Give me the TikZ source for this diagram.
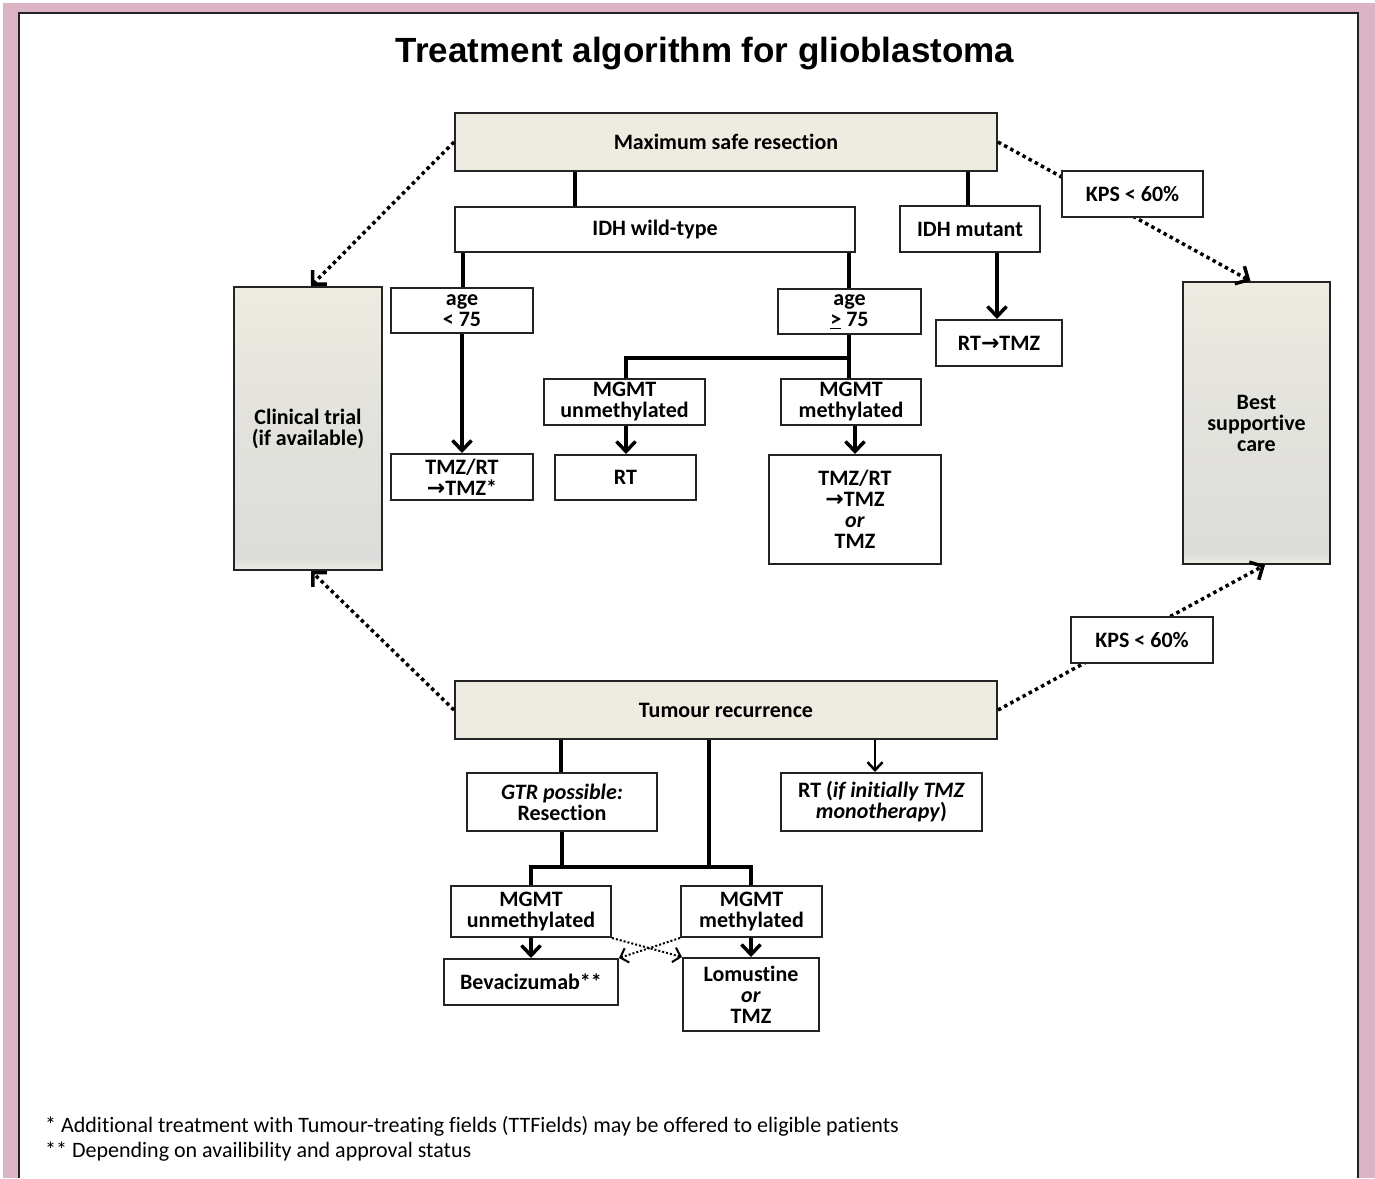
\documentclass[tikz,border=0pt]{standalone}
\usepackage{fontspec}
\setmainfont{Carlito}[Ligatures=NoCommon]
\newfontfamily\titlefont{Liberation Sans}
\newfontfamily\dejavu{DejaVu Sans}
\usetikzlibrary{arrows.meta}
\definecolor{pinkbg}{RGB}{219,181,197}
\definecolor{beige}{RGB}{238,236,225}
\definecolor{greyb}{RGB}{220,220,218}
\definecolor{framec}{RGB}{35,35,35}
\newcommand{\rarr}{{\dejavu\bfseries →}}
\pgfdeclareverticalshading{sideshade}{100bp}{color(0bp)=(beige); color(25bp)=(beige); color(27bp)=(greyb); color(55bp)=(greyb!55!beige); color(75bp)=(beige); color(100bp)=(beige)}
\tikzset{
  box/.style={draw=framec, line width=2pt, fill=white, inner sep=0pt, align=center,
    font=\fontsize{22}{21}\selectfont\bfseries},
  beigebox/.style={box, fill=beige},
  sidebox/.style={box, shading=sideshade},
  conn/.style={line width=3.5pt, black},
  arr/.style={conn, -{Straight Barb[length=10pt,width=19pt]}},
  thinarr/.style={line width=2.5pt, -{Straight Barb[length=8pt,width=15pt]}},
  dots/.style={line width=3.5pt, dash pattern=on 3.5pt off 3.5pt, -{Straight Barb[length=10pt,width=20pt]}},
  thindots/.style={line width=2pt, dash pattern=on 2pt off 2pt, -{Straight Barb[length=7pt,width=15pt]}},
  foot/.style={anchor=west, inner sep=0pt, font=\fontsize{22}{24}\selectfont}
}
\begin{document}
\begin{tikzpicture}[x=1pt,y=-1pt]
\useasboundingbox (0,0) rectangle (1375,1178);
\fill[white] (0,0) rectangle (1375,1178);
\fill[pinkbg] (3,3) rectangle (1375,1178);
\fill[white] (19,13) rectangle (1358,1178);
\draw[line width=2.5pt, framec] (19,1178) -- (19,13) -- (1358,13) -- (1358,1178);

\node[font=\titlefont\bfseries\fontsize{35}{40}\selectfont] (title) at (705,54) {Treatment algorithm for glioblastoma};

% boxes
\node[beigebox, minimum width=542pt, minimum height=58pt] (msr) at (726,142) {Maximum safe resection};
\node[box, minimum width=400pt, minimum height=45pt] (idhwt) at (655,229.5) {IDH wild-type};
\node[box, minimum width=140pt, minimum height=46pt] (idhm) at (970,229) {IDH mutant};
\node[sidebox, minimum width=148pt, minimum height=283pt] (ct) at (308,428.5) {Clinical trial\\(if available)};
\node[sidebox, minimum width=147pt, minimum height=282pt] (bsc) at (1256.5,423) {Best\\supportive\\care};
\node[box, minimum width=142pt, minimum height=45pt] (age1) at (462,310.5) {age\\< 75};
\node[box, minimum width=143pt, minimum height=45pt] (age2) at (849.5,311.5) {age\\\underline{>} 75};
\node[box, minimum width=126pt, minimum height=46pt] (rttmz) at (999,343) {RT\rarr TMZ};
\node[box, minimum width=161pt, minimum height=46pt] (mu1) at (624.5,402) {MGMT\\unmethylated};
\node[box, minimum width=140pt, minimum height=46pt] (mm1) at (851,402) {MGMT\\methylated};
\node[box, minimum width=142pt, minimum height=46pt] (tmzrt1) at (462,477) {TMZ/RT\\\rarr TMZ*};
\node[box, minimum width=141pt, minimum height=45pt] (rt) at (625.5,477.5) {RT};
\node[box, minimum width=172pt, minimum height=109pt] (tmzrt2) at (855,509.5) {TMZ/RT\\\rarr TMZ\\\textit{or}\\TMZ};
\node[beigebox, minimum width=542pt, minimum height=58pt] (tr) at (726,710) {Tumour recurrence};
\node[box, minimum width=190pt, minimum height=58pt] (gtr) at (562,802) {\textit{GTR possible:}\\Resection};
\node[box, minimum width=201pt, minimum height=58pt] (rtif) at (881.5,802) {RT (\textit{if initially TMZ}\\\textit{monotherapy})};
\node[box, minimum width=160pt, minimum height=51pt] (mu2) at (531,911.5) {MGMT\\unmethylated};
\node[box, minimum width=141pt, minimum height=51pt] (mm2) at (751.5,911.5) {MGMT\\methylated};
\node[box, minimum width=174pt, minimum height=46pt] (bev) at (531,982) {Bevacizumab**};
\node[box, minimum width=136pt, minimum height=73pt] (lom) at (751,994.5) {Lomustine\\\textit{or}\\TMZ};

% dotted connectors (KPS boxes drawn on top)
\draw[dots] (msr.west) -- ([xshift=3pt]ct.north);
\draw[dots] (msr.east) -- ([xshift=-6pt]bsc.north);
\draw[dots] (tr.west) -- ([xshift=3pt]ct.south);
\draw[dots] (tr.east) -- ([xshift=8.5pt]bsc.south);
\node[box, minimum width=141pt, minimum height=46pt] (kps1) at (1132.5,194) {KPS < 60\%};
\node[box, minimum width=142pt, minimum height=46pt] (kps2) at (1142,640) {KPS < 60\%};

% solid connectors (upper)
\draw[conn] (msr.south -| 575,0) -- (idhwt.north -| 575,0);
\draw[conn] (msr.south -| 968,0) -- (idhm.north -| 968,0);
\draw[conn] (idhwt.south -| 463,0) -- (age1.north -| 463,0);
\draw[conn] (idhwt.south -| 849,0) -- (age2.north -| 849,0);
\draw[arr] (idhm.south -| 997,0) -- (rttmz.north -| 997,0);
\draw[arr] (age1.south -| 462,0) -- (tmzrt1.north -| 462,0);
\coordinate (j1) at (849,358);
\draw[conn] (age2.south -| 849,0) -- (mm1.north -| 849,0);
\draw[conn] (j1) -| (mu1.north -| 626,0);
\draw[arr] (mu1.south -| 626,0) -- (rt.north -| 626,0);
\draw[arr] (mm1.south -| 855,0) -- (tmzrt2.north -| 855,0);

% solid connectors (lower)
\coordinate (hL) at (531,867);
\coordinate (hR) at (751,867);
\draw[conn] (tr.south -| 561,0) -- (gtr.north -| 561,0);
\draw[conn] (gtr.south -| 562,0) -- (562,867);
\draw[conn] (tr.south -| 709,0) -- (709,867);
\draw[thinarr] (tr.south -| 875,0) -- (rtif.north -| 875,0);
\draw[conn] (mu2.north -| 531,0) -- (hL) -- (hR) -- (mm2.north -| 751,0);
\draw[arr] (mu2.south -| 531,0) -- (bev.north -| 531,0);
\draw[arr] (mm2.south -| 751,0) -- (lom.north -| 751,0);
\draw[thindots] (mu2.south east) -- (lom.north west);
\draw[thindots] (mm2.south west) -- (bev.north east);

% footnotes
\node[foot] (f1) at (45,1126) {* Additional treatment with Tumour-treating fields (TTFields) may be offered to eligible patients};
\node[foot] (f2) at (45,1152) {** Depending on availibility and approval status};
\end{tikzpicture}
\end{document}
